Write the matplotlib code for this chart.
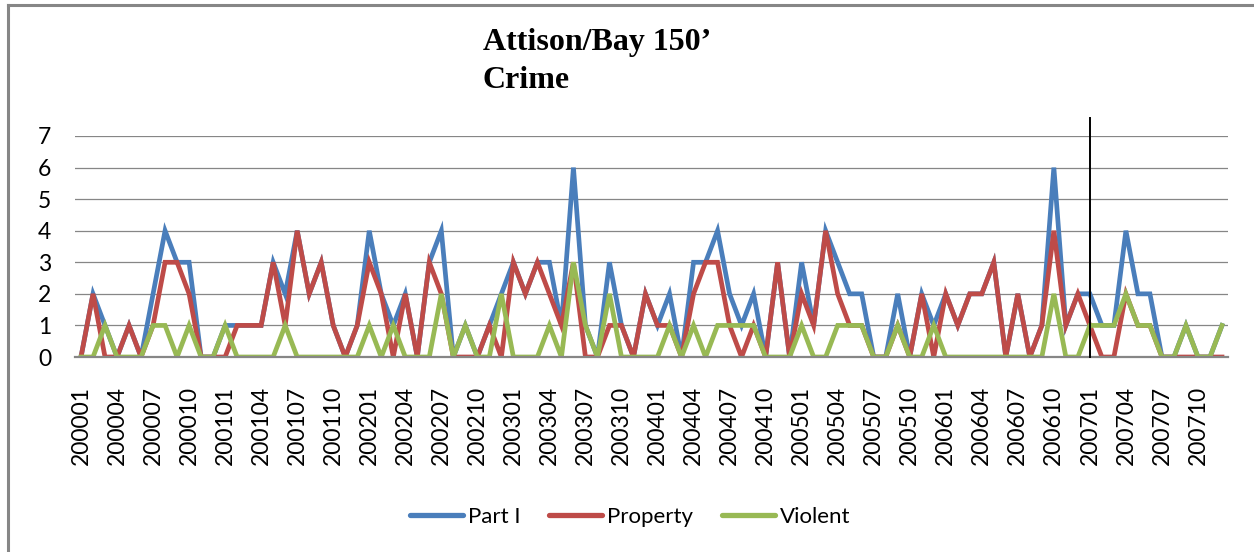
import matplotlib
matplotlib.use('Agg')
import matplotlib.pyplot as plt
from matplotlib.lines import Line2D

# monthly categories 200001 .. 200712
months = ['%d%02d' % (y, m) for y in range(2000, 2008) for m in range(1, 13)]

part_one = [0, 2, 1, 0, 1, 0, 2, 4, 3, 3, 0, 0, 1, 1, 1, 1, 3, 2, 4, 2, 3, 1, 0, 1,
            4, 2, 1, 2, 0, 3, 4, 0, 1, 0, 1, 2, 3, 2, 3, 3, 1, 6, 1, 0, 3, 1, 0,
            2, 1, 2, 0, 3, 3, 4, 2, 1, 2, 0, 3, 0, 3, 1, 4, 3, 2, 2, 0, 0, 2, 0, 2,
            1, 2, 1, 2, 2, 3, 0, 2, 0, 1, 6, 1, 2, 2, 1, 1, 4, 2, 2, 0, 0, 1, 0, 0, 1]
prop = [0, 2, 0, 0, 1, 0, 1, 3, 3, 2, 0, 0, 0, 1, 1, 1, 3, 1, 4, 2, 3, 1, 0, 1,
        3, 2, 0, 2, 0, 3, 2, 0, 0, 0, 1, 0, 3, 2, 3, 2, 1, 3, 0, 0, 1, 1, 0,
        2, 1, 1, 0, 2, 3, 3, 1, 0, 1, 0, 3, 0, 2, 1, 4, 2, 1, 1, 0, 0, 1, 0, 2,
        0, 2, 1, 2, 2, 3, 0, 2, 0, 1, 4, 1, 2, 1, 0, 0, 2, 1, 1, 0, 0, 0, 0, 0, 0]
violent = [0, 0, 1, 0, 0, 0, 1, 1, 0, 1, 0, 0, 1, 0, 0, 0, 0, 1, 0, 0, 0, 0, 0, 0,
           1, 0, 1, 0, 0, 0, 2, 0, 1, 0, 0, 2, 0, 0, 0, 1, 0, 3, 1, 0, 2, 0, 0,
           0, 0, 1, 0, 1, 0, 1, 1, 1, 1, 0, 0, 0, 1, 0, 0, 1, 1, 1, 0, 0, 1, 0, 0,
           1, 0, 0, 0, 0, 0, 0, 0, 0, 0, 2, 0, 0, 1, 1, 1, 2, 1, 1, 0, 0, 1, 0, 0, 1]
series_names = ['Part I', 'Property', 'Violent']
colors = ['#4A7EBB', '#BE4B48', '#98B954']
marker_month = '200701'
title_lines = ['Attison/Bay 150\u2019', 'Crime']

W, H = 1254, 552
fig = plt.figure(figsize=(W / 100, H / 100), dpi=100)
ax = fig.add_axes([75 / W, 1 - 357 / H, (1228 - 75) / W, (357 - 136) / H])

x = list(range(len(months)))
for vals, name, c in zip([part_one, prop, violent], series_names, colors):
    ax.plot(x, vals, color=c, lw=3.4, label=name, solid_joinstyle='miter')

# vertical marker line, sticks out above the plot area
ax.axvline(months.index(marker_month), ymin=0, ymax=1.081, color='black', lw=1.4,
           clip_on=False, zorder=5)

ax.set_xlim(-0.5, len(months) - 0.5)
ax.set_ylim(0, 7)
ax.set_yticks(range(0, 8))
ax.set_xticks(x[::3])
ax.set_xticklabels(months[::3], rotation=90, va='top', ha='center')
ax.tick_params(axis='both', length=0, labelsize=16.5, labelcolor='black')
ax.tick_params(axis='y', pad=17)
ax.tick_params(axis='x', pad=21)
for lab in ax.get_xticklabels() + ax.get_yticklabels():
    lab.set_fontfamily('Lato')

ax.grid(axis='y', color='#868686', lw=0.9)
ax.set_axisbelow(True)
for s in ['top', 'right', 'left']:
    ax.spines[s].set_visible(False)
ax.spines['bottom'].set_color('#868686')
ax.spines['bottom'].set_linewidth(1.6)

leg = fig.legend(loc='center', bbox_to_anchor=(630 / W, 1 - 517 / H), ncol=3,
                 frameon=False, handlelength=2.4, handletextpad=0.2,
                 columnspacing=1.3, prop={'family': 'Lato', 'size': 16})
for ln in leg.get_lines():
    ln.set_linewidth(3.8)
    ln.set_solid_capstyle('round')

for line, yb in zip(title_lines, [50, 88]):
    fig.text(483 / W, 1 - yb / H, line, ha='left', va='baseline',
             fontfamily='Liberation Serif', fontweight='bold', fontsize=23)

# chart frame (only top and left edges are inside the picture)
fig.add_artist(Line2D([8 / W, 8 / W], [0, 1 - 5 / H], color='#868686', lw=2.2,
                      transform=fig.transFigure))
fig.add_artist(Line2D([8 / W, 1], [1 - 5 / H, 1 - 5 / H], color='#868686', lw=2.2,
                      transform=fig.transFigure))

fig.savefig('out.png', dpi=100)
